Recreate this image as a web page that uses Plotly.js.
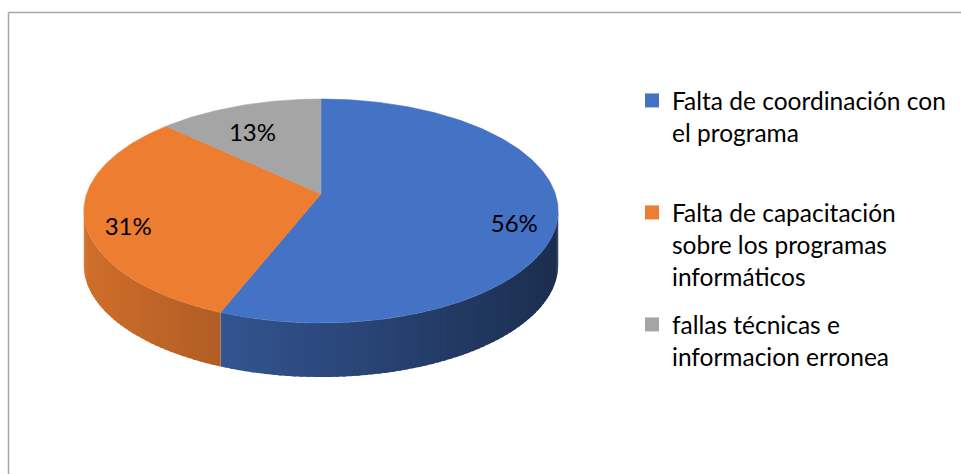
<!DOCTYPE html>
<html><head><meta charset="utf-8">
<script src="https://cdn.plot.ly/plotly-3.0.1.min.js"></script>
<style>html,body{margin:0;padding:0;background:#fff}#chart{width:961px;height:474px}</style>
</head><body><div id="chart"></div>
<script>
// ---- data ----
const categories = ["Falta de coordinación con el programa", "Falta de capacitación sobre los programas informáticos", "fallas técnicas e informacion erronea"];
const legendLabels = ["Falta de coordinación con<br>el programa", "Falta de capacitación<br>sobre los programas<br>informáticos", "fallas técnicas e<br>informacion erronea"];
const percentages = [56, 31, 13];
const colors = ["#4472C4", "#ED7D31", "#A5A5A5"];

// ---- geometry (drawing only) ----
const W = 961, H = 474;
const CX = 321, CY = 194, RX = 234.4, RY = 109.4, K = 0.152, DEPTH = 54;
function proj(deg, r) {
  const t = deg * Math.PI / 180;
  const u = r * Math.sin(t), v = -r * Math.cos(t);
  const s = 1 / (1 - K * v);
  return [CX + RX * u * s, CY + RY * v * s];
}
function shade(hex, f) {
  const n = parseInt(hex.slice(1), 16);
  const r = (n >> 16) & 255, g = (n >> 8) & 255, b = n & 255;
  return `rgb(${Math.round(r * f)},${Math.round(g * f)},${Math.round(b * f)})`;
}

const total = percentages.reduce((a, b) => a + b, 0);
const starts = [], ends = [];
let acc = 0;
percentages.forEach(p => { starts.push(acc / total * 360); acc += p; ends.push(acc / total * 360); });

const traces = [];
const silA = Math.acos(-K) * 180 / Math.PI;
const silB = 360 - silA;

// side walls
percentages.forEach((p, i) => {
  const a = Math.max(starts[i], silA), b = Math.min(ends[i], silB);
  if (b <= a) return;
  const n = Math.max(2, Math.ceil((b - a) / 1.5));
  for (let j = 0; j < n; j++) {
    const t0 = a + (b - a) * j / n;
    const t1 = Math.min(b, a + (b - a) * (j + 1) / n + 0.8);
    const pm = proj(a + (b - a) * (j + 0.5) / n, 1);
    const f = Math.min(0.9, Math.max(0.38, 0.88 - (pm[0] - 84) * 0.00101));
    const c = shade(colors[i], f);
    const xs = [], ys = [];
    const m = 4;
    for (let k = 0; k <= m; k++) { const q = proj(t0 + (t1 - t0) * k / m, 1); xs.push(q[0]); ys.push(q[1]); }
    for (let k = m; k >= 0; k--) { const q = proj(t0 + (t1 - t0) * k / m, 1); xs.push(q[0]); ys.push(q[1] + DEPTH); }
    xs.push(xs[0]); ys.push(ys[0]);
    traces.push({
      type: 'scatter', mode: 'lines', x: xs, y: ys,
      fill: 'toself', fillcolor: c, line: { color: c, width: 0 },
      hoverinfo: 'skip', showlegend: false
    });
  }
});

// top faces
percentages.forEach((p, i) => {
  const xs = [CX], ys = [CY];
  const n = Math.max(4, Math.ceil(ends[i] - starts[i]));
  for (let j = 0; j <= n; j++) {
    const q = proj(starts[i] + (ends[i] - starts[i]) * j / n, 1);
    xs.push(q[0]); ys.push(q[1]);
  }
  xs.push(CX); ys.push(CY);
  traces.push({
    type: 'scatter', mode: 'lines', x: xs, y: ys,
    fill: 'toself', fillcolor: colors[i], line: { color: colors[i], width: 0.6 },
    hoverinfo: 'skip', showlegend: false, name: categories[i]
  });
});

// data labels
const lx = [], ly = [], lt = [];
percentages.forEach((p, i) => {
  const mid = (starts[i] + ends[i]) / 2;
  const q = proj(mid, 0.82);
  lx.push(q[0]); ly.push(q[1] + DEPTH * 0.28); lt.push(p + '%');
});
traces.push({
  type: 'scatter', mode: 'text', x: lx, y: ly, text: lt,
  textposition: 'middle center',
  textfont: { family: 'Lato', size: 24, color: '#000' },
  hoverinfo: 'skip', showlegend: false
});

// legend entries
const legendIds = ['legend', 'legend2', 'legend3'];
percentages.forEach((p, i) => {
  traces.push({
    type: 'scatter', mode: 'markers', x: [null], y: [null],
    marker: { symbol: 'square', size: 14, color: colors[i] },
    name: legendLabels[i], legend: legendIds[i], showlegend: true, hoverinfo: 'skip'
  });
});

function legendAt(topPx) {
  return {
    x: 632 / W, y: 1 - topPx / H, xanchor: 'left', yanchor: 'top',
    font: { family: 'Lato', size: 24.5, color: '#000' }, valign: 'top',
    bgcolor: 'rgba(0,0,0,0)', borderwidth: 0
  };
}

const layout = {
  width: W, height: H,
  margin: { l: 0, r: 0, t: 0, b: 0, pad: 0, autoexpand: false },
  paper_bgcolor: '#fff', plot_bgcolor: '#fff',
  font: { family: 'Lato', color: '#000' },
  xaxis: { range: [0, W], visible: false, fixedrange: true },
  yaxis: { range: [H, 0], visible: false, fixedrange: true },
  legend: legendAt(78), legend2: legendAt(190), legend3: legendAt(302),
  shapes: [
    { type: 'line', xref: 'paper', yref: 'paper', x0: 8.5 / W, x1: 8.5 / W, y0: 1 - 12.5 / H, y1: -0.1, line: { color: '#a6a6a6', width: 1.5 } },
    { type: 'line', xref: 'paper', yref: 'paper', x0: 8.5 / W, x1: 1.1, y0: 1 - 12.5 / H, y1: 1 - 12.5 / H, line: { color: '#a6a6a6', width: 1.5 } }
  ]
};

Plotly.newPlot('chart', traces, layout, { staticPlot: true, displayModeBar: false });
</script>
</body></html>
